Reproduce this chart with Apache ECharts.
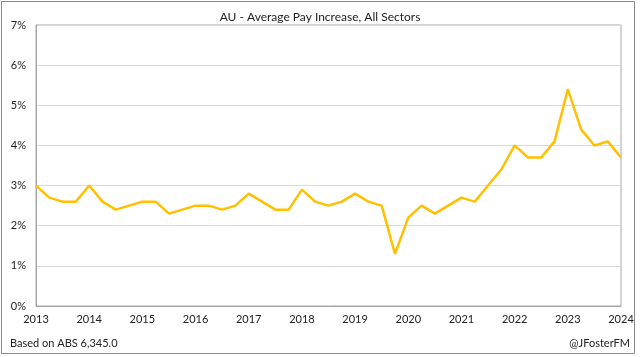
<!DOCTYPE html>
<html><head><meta charset="utf-8">
<script src="https://cdn.jsdelivr.net/npm/echarts@6/dist/echarts.min.js"></script>
<style>html,body{margin:0;padding:0;background:#fff}#c{width:640px;height:357px}</style>
</head><body><div id="c"></div>
<script>
var quarters = [];
for (var y = 2013; y <= 2024; y++) { for (var q = 1; q <= 4; q++) { if (y === 2024 && q > 1) break; quarters.push(y + 'Q' + q); } }
var payIncrease = [3.0,2.7,2.6,2.6, 3.0,2.6,2.4,2.5, 2.6,2.6,2.3,2.4, 2.5,2.5,2.4,2.5,
  2.8,2.6,2.4,2.4, 2.9,2.6,2.5,2.6, 2.8,2.6,2.5,1.3, 2.2,2.5,2.3,2.5,
  2.7,2.6,3.0,3.4, 4.0,3.7,3.7,4.1, 5.4,4.4,4.0,4.1, 3.7];
var titleText = 'AU - Average Pay Increase, All Sectors';
var sourceText = 'Based on ABS 6,345.0';
var creditText = '@JFosterFM';
var font = 'Lato, "Open Sans", sans-serif';

var chart = echarts.init(document.getElementById('c'));
chart.setOption({
  animation: false,
  backgroundColor: '#fff',
  title: { text: titleText, left: 'center', top: 6, textStyle: { fontFamily: font, fontSize: 12, fontWeight: 'normal', color: '#222' } },
  grid: { left: 36, right: 19, top: 25, bottom: 51, show: true, borderColor: '#a6a6a6', borderWidth: 1 },
  xAxis: {
    type: 'category', data: quarters, boundaryGap: false,
    axisLine: { lineStyle: { color: '#a6a6a6' } },
    axisTick: { show: false },
    axisLabel: { interval: 3, color: '#222', fontFamily: font, fontSize: 11, margin: 8,
      formatter: function (v) { return v.slice(0, 4); } }
  },
  yAxis: {
    type: 'value', min: 0, max: 7, interval: 1,
    axisLine: { show: true, lineStyle: { color: '#a6a6a6' } },
    axisTick: { show: false },
    splitLine: { lineStyle: { color: '#d9d9d9' } },
    axisLabel: { color: '#222', fontFamily: font, fontSize: 11, margin: 10, formatter: '{value}%' }
  },
  series: [{ type: 'line', data: payIncrease, symbol: 'none', lineStyle: { color: '#FFC000', width: 2.5 } }],
  graphic: [
    { type: 'rect', shape: { x: 1.5, y: 1.5, width: 633, height: 352 }, style: { fill: 'none', stroke: '#888', lineWidth: 1 }, silent: true },
    { type: 'text', left: 10, top: 338, style: { text: sourceText, fill: '#222', font: '11px ' + font } },
    { type: 'text', right: 10, top: 338, style: { text: creditText, fill: '#222', font: '11px ' + font } }
  ]
});
</script></body></html>
